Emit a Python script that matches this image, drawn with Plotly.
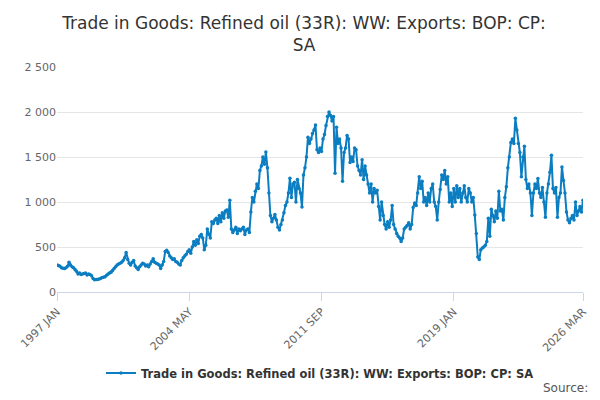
import plotly.graph_objects as go

months = ["JAN","FEB","MAR","APR","MAY","JUN","JUL","AUG","SEP","OCT","NOV","DEC"]
years = list(range(1997, 2027))
values_by_year = {
1997: [300,295,285,270,265,260,270,285,330,300,280,270],
1998: [250,230,200,210,195,200,205,210,190,200,195,180],
1999: [150,135,140,140,145,150,160,165,170,185,200,210],
2000: [220,240,260,280,300,310,320,330,350,380,440,360],
2001: [320,300,330,350,290,270,250,280,300,320,310,290],
2002: [300,280,310,340,370,330,320,310,300,260,300,340],
2003: [450,465,440,400,380,360,370,340,330,310,300,350],
2004: [380,400,420,450,470,430,500,560,520,580,540,620],
2005: [640,600,470,520,700,640,600,780,760,800,820,760],
2006: [850,780,880,820,900,910,830,1020,700,660,690,720],
2007: [650,700,680,700,720,640,690,700,660,890,1050,1000],
2008: [1120,1200,1150,1350,1400,1500,1420,1555,1380,1100,850,780],
2009: [820,860,800,720,690,750,800,880,960,1000,1100,1265],
2010: [1050,1200,1220,1000,1250,1150,1100,945,1300,1380,1500,1720],
2011: [1650,1700,1760,1800,1855,1580,1550,1600,1560,1700,1750,1850],
2012: [1950,2000,1960,1900,1950,1320,1830,1650,1700,1600,1230,1550],
2013: [1600,1740,1700,1440,1500,1450,1600,1580,1400,1350,1300,1470],
2014: [1250,1400,1300,1200,1100,1200,1000,1150,1100,1130,950,800],
2015: [1000,850,750,700,780,720,800,960,750,700,650,620],
2016: [600,560,600,700,720,740,770,700,750,940,990,960],
2017: [1100,1280,1150,1230,1000,1050,960,1100,1000,1150,1200,1000],
2018: [950,800,1000,1140,1300,1250,1350,1200,1280,1000,1100,950],
2019: [1150,1000,1180,1050,1150,1000,1100,1180,1050,1000,1150,1100],
2020: [1000,1050,855,650,390,360,470,490,500,520,560,820],
2021: [620,920,850,780,900,820,1120,900,920,800,1050,1170],
2022: [1380,1500,1660,1700,1650,1930,1800,1650,1550,1280,1500,1620],
2023: [1250,1150,1200,1100,850,1100,1200,1150,1260,1100,1050,1160],
2024: [1000,830,1100,1200,1330,1520,1150,1100,1160,830,1050,1100],
2025: [1390,1240,1100,890,800,770,820,850,800,1000,850,900],
2026: [950,890,1020],
}
tick_labels = ["1997 JAN","2004 MAY","2011 SEP","2019 JAN","2026 MAR"]
series_name = "Trade in Goods: Refined oil (33R): WW: Exports: BOP: CP: SA"

x, y = [], []
for yr in years:
    for i, v in enumerate(values_by_year[yr]):
        x.append(f"{yr} {months[i]}")
        y.append(v)

fig = go.Figure(go.Scatter(
    x=x, y=y, mode="lines+markers", name="<b>" + series_name + "</b>",
    line=dict(color="#0b7dc1", width=2), marker=dict(size=3.5, color="#0b7dc1"),
    showlegend=True))

fig.update_layout(
    width=592, height=392, plot_bgcolor="white", paper_bgcolor="white",
    separators=". ",
    font=dict(family="DejaVu Sans", color="#333"),
    title=dict(text="Trade in Goods: Refined oil (33R): WW: Exports: BOP: CP:<br>SA",
               x=0.5, xanchor="center", y=0.946, yanchor="middle",
               font=dict(size=17, color="#333")),
    margin=dict(l=49, r=17, t=59, b=108, autoexpand=False),
    legend=dict(orientation="h", x=0.5, xanchor="center", y=-0.36, yanchor="middle",
                font=dict(size=11.5, color="#333")),
    annotations=[dict(text="Source:", x=1, xref="paper", xanchor="right", xshift=7,
                      y=0, yref="paper", yanchor="middle", yshift=-96,
                      showarrow=False, font=dict(size=12, color="#555"))],
)
fig.update_xaxes(type="category", tickmode="array", tickvals=tick_labels, ticktext=tick_labels,
                 tickangle=-45, ticks="outside", ticklen=8, tickcolor="#ccd6eb",
                 showline=True, linecolor="#ccd6eb", showgrid=False, automargin=False,
                 tickfont=dict(size=11, color="#666"), range=[0, len(x)-1])
fig.update_yaxes(range=[0, 2500], dtick=500, tickformat=",d", showgrid=True, automargin=False,
                 gridcolor="#e6e6e6", zeroline=False, tickfont=dict(size=11, color="#666"))
fig.write_html("out.html")
